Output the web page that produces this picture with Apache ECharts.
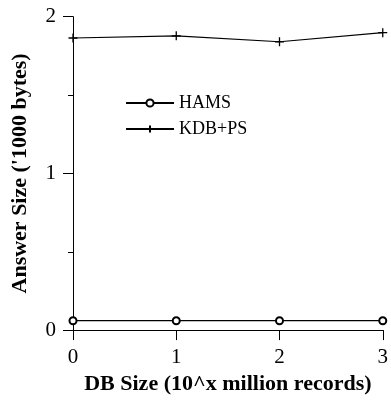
<!DOCTYPE html>
<html>
<head>
<meta charset="utf-8">
<script src="https://cdn.jsdelivr.net/npm/echarts@6/dist/echarts.min.js"></script>
<style>
html,body{margin:0;padding:0;background:#fff;}
#chart{width:391px;height:400px;}
</style>
</head>
<body>
<div id="chart"></div>
<script>
var xValues = [0, 1, 2, 3];
var hamsValues = [0.06, 0.06, 0.06, 0.06];
var kdbValues = [1.864, 1.878, 1.840, 1.898];
var seriesNames = ['HAMS', 'KDB+PS'];
var xTitle = 'DB Size (10^x million records)';
var yTitle = "Answer Size ('1000 bytes)";

var FONT = '"Liberation Serif", "Times New Roman", serif';
var chart = echarts.init(document.getElementById('chart'), null, {renderer: 'canvas'});
function pairs(xs, ys) { return xs.map(function (x, i) { return [x, ys[i]]; }); }

chart.setOption({
  animation: false,
  backgroundColor: '#fff',
  grid: {left: 73, right: 2, top: 16.7, bottom: 69, containLabel: false},
  legend: {
    orient: 'vertical',
    left: 125,
    top: 94,
    padding: 0,
    itemWidth: 48,
    itemHeight: 9,
    itemGap: 8,
    textStyle: {fontFamily: FONT, fontSize: 18, color: '#000', padding: [0, 0, 0, 0], lineHeight: 18},
    data: seriesNames
  },
  xAxis: {
    type: 'value', min: 0, max: 3, interval: 1,
    name: xTitle, nameLocation: 'middle', nameGap: 41,
    nameTextStyle: {fontFamily: FONT, fontSize: 22, fontWeight: 'bold', color: '#000'},
    axisLine: {lineStyle: {color: '#000', width: 1}},
    axisTick: {show: true, length: 10, lineStyle: {color: '#000'}},
    axisLabel: {fontFamily: FONT, fontSize: 21, color: '#000', margin: 17},
    splitLine: {show: false}
  },
  yAxis: {
    type: 'value', min: 0, max: 2, interval: 1,
    name: yTitle, nameLocation: 'middle', nameGap: 42,
    nameTextStyle: {fontFamily: FONT, fontSize: 22, fontWeight: 'bold', color: '#000'},
    axisLine: {show: true, lineStyle: {color: '#000', width: 1}},
    axisTick: {show: true, length: 10, lineStyle: {color: '#000'}},
    minorTick: {show: true, splitNumber: 2, length: 5, lineStyle: {color: '#000'}},
    axisLabel: {fontFamily: FONT, fontSize: 21, color: '#000', margin: 17},
    splitLine: {show: false}
  },
  series: [
    {
      name: seriesNames[0], type: 'line', data: pairs(xValues, hamsValues),
      symbol: 'emptyCircle', symbolSize: 7, showAllSymbol: true,
      lineStyle: {color: '#000', width: 1.2},
      itemStyle: {color: '#000', borderColor: '#000', borderWidth: 1}
    },
    {
      name: seriesNames[1], type: 'line', data: pairs(xValues, kdbValues),
      symbol: 'path://M0,5H10M5,0V10', symbolSize: 9, showAllSymbol: true,
      lineStyle: {color: '#000', width: 1.2},
      itemStyle: {color: 'none', borderColor: '#000', borderWidth: 1.3}
    }
  ]
});
</script>
</body>
</html>
